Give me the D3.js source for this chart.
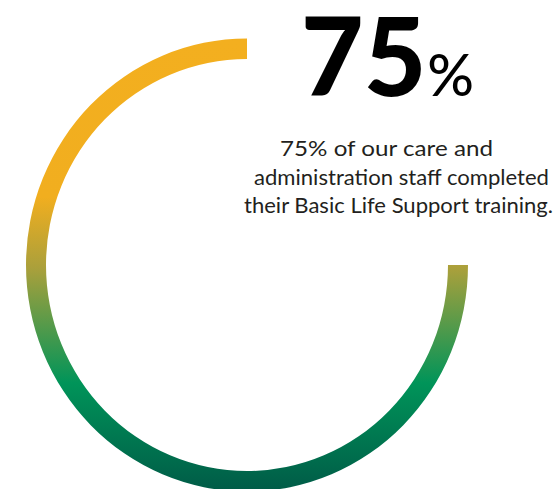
<!DOCTYPE html>
<html>
<head>
<meta charset="utf-8">
<script src="https://cdn.jsdelivr.net/npm/d3@7"></script>
<style>
  html, body { margin: 0; padding: 0; background: #fff; }
  svg { display: block; }
</style>
</head>
<body>
<div id="chart"></div>
<script>
// Share of care and administration staff who completed Basic Life Support training
const completedShare = [75];
const headlineValue = ["75", "%"];
const captionLines = [
  "75% of our care and",
  "administration staff completed",
  "their Basic Life Support training."
];
// Vertical colour ramp of the ring: [position along the ring's height, colour]
const rampStops = [
  [0.00, "#F3AF1F"],
  [0.35, "#F1AE1F"],
  [0.505, "#ABA03B"],
  [0.76, "#009459"],
  [1.00, "#005B47"]
];

const W = 556, H = 489;
const cx = 247, cy = 265;
const outerR = 221, innerR = 201, squash = 1.025;

const svg = d3.select("#chart").append("svg")
  .attr("width", W).attr("height", H);

// The gradient lives in the ring group's own (centred) coordinates
const defs = svg.append("defs");
const grad = defs.append("linearGradient")
  .attr("id", "ringRamp")
  .attr("gradientUnits", "userSpaceOnUse")
  .attr("x1", 0).attr("x2", 0)
  .attr("y1", -outerR).attr("y2", outerR);
grad.selectAll("stop").data(rampStops).join("stop")
  .attr("offset", d => d[0])
  .attr("stop-color", d => d[1]);

// Angle scale: percentage -> radians, running anticlockwise from 12 o'clock
const angle = d3.scaleLinear().domain([0, 100]).range([0, -2 * Math.PI]);

const arc = d3.arc()
  .innerRadius(innerR)
  .outerRadius(outerR)
  .startAngle(0)
  .endAngle(d => angle(d));

svg.append("g")
  .attr("transform", `translate(${cx},${cy}) scale(1,${squash})`)
  .selectAll("path").data(completedShare).join("path")
  .attr("d", arc)
  .attr("fill", "url(#ringRamp)");

// Headline figure
const head = svg.append("text")
  .attr("x", 301).attr("y", 96)
  .attr("fill", "#000")
  .style("font-family", "Lato, 'Liberation Sans', sans-serif");
head.append("tspan")
  .text(headlineValue[0])
  .style("font-size", "108px").style("font-weight", 900);
head.append("tspan")
  .attr("dx", 1)
  .text(headlineValue[1])
  .style("font-size", "58px").style("font-weight", 500);

// Caption lines, each set to its own measure
const captionLayout = [
  { x: 280, len: 213 },
  { x: 254, len: 295 },
  { x: 244, len: 309 }
];
svg.append("g").selectAll("text").data(captionLines).join("text")
  .attr("x", (d, i) => captionLayout[i].x)
  .attr("y", (d, i) => 156 + i * 28.7)
  .attr("textLength", (d, i) => captionLayout[i].len)
  .attr("lengthAdjust", "spacingAndGlyphs")
  .attr("fill", "#231F20")
  .style("font-family", "Lato, 'Liberation Sans', sans-serif")
  .style("font-size", "22px")
  .text(d => d);
</script>
</body>
</html>
